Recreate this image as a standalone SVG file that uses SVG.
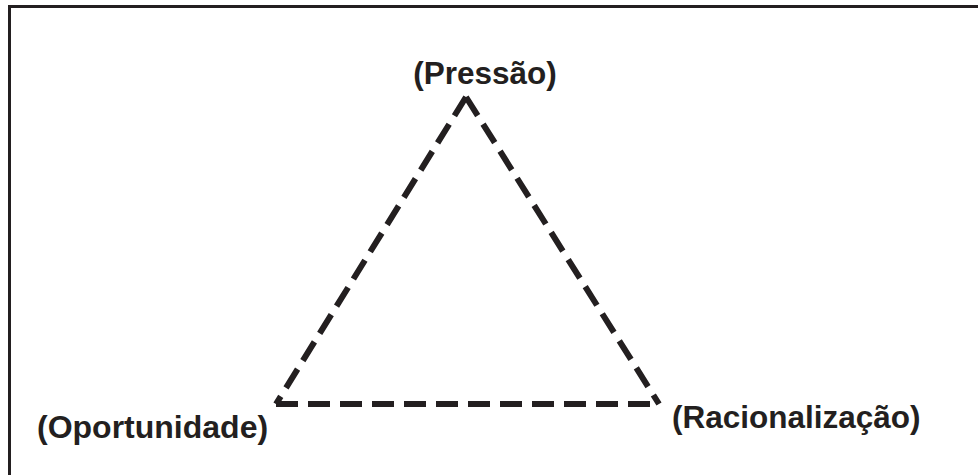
<svg xmlns="http://www.w3.org/2000/svg" width="978" height="475" viewBox="0 0 978 475">
<style>
.lbl{font-family:"Liberation Sans",Arial,sans-serif;font-weight:bold;fill:#231f20}
.edge{fill:none;stroke:#231f20;stroke-width:6;stroke-dasharray:22 10}
</style>
<rect x="0" y="0" width="978" height="475" fill="#ffffff"/>
<path d="M9.5,475 V6.5 H978" fill="none" stroke="#231f20" stroke-width="3"/>
<g id="connectors">
<path class="edge" d="M466,97 L276,404"/>
<path class="edge" d="M466,97 L659,404"/>
<path class="edge" d="M276,404 L659,404"/>
</g>
<g id="pressao"><text class="lbl" x="485" y="84" font-size="31.5" text-anchor="middle">(Pressão)</text></g>
<g id="oportunidade"><text class="lbl" x="37" y="438" font-size="32">(Oportunidade)</text></g>
<g id="racionalizacao"><text class="lbl" x="672" y="428" font-size="31.5">(Racionalização)</text></g>
</svg>
